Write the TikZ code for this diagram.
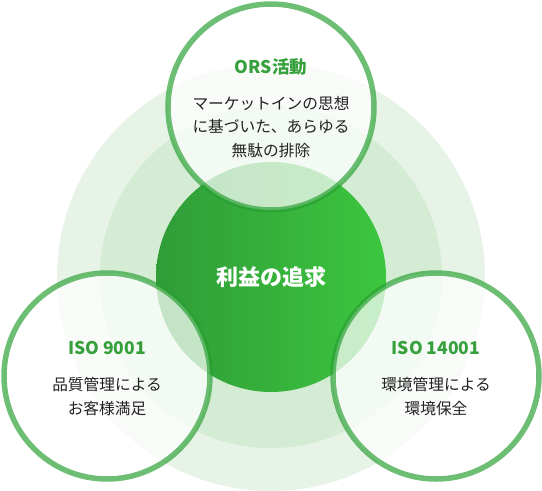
\documentclass[tikz,border=0pt]{standalone}
\usepackage{fontspec}
\newfontfamily\jp{Noto Sans CJK JP}
\usetikzlibrary{shadings}
\definecolor{ringA}{RGB}{230,243,230}
\definecolor{ringB}{RGB}{212,235,212}
\definecolor{gL}{RGB}{48,156,56}
\definecolor{gR}{RGB}{60,198,62}
\definecolor{edge}{RGB}{40,160,50}
\definecolor{head}{RGB}{54,160,60}
\definecolor{body}{RGB}{34,34,34}
\tikzset{
  sat/.style={circle, minimum size=206pt, inner sep=0pt, fill=white, fill opacity=0.72, draw=edge, draw opacity=0.68, line width=5.5pt},
  headtxt/.style={font=\jp\bfseries\fontsize{17.5}{20}\selectfont, text=head, inner sep=0pt},
  bodytxt/.style={font=\jp\fontsize{15.7}{23.5}\selectfont, text=body, align=center, inner sep=0pt},
}
\begin{document}
\begin{tikzpicture}[x=1pt,y=-1pt]
\useasboundingbox (0,0) rectangle (542,491);
\node[circle, minimum size=428pt, inner sep=0pt, fill=ringA] (outer) at (271,277) {};
\node[circle, minimum size=342pt, inner sep=0pt, fill=ringB] (middle) at (271,277) {};
\node[circle, minimum size=230pt, inner sep=0pt, left color=gL, right color=gR] (core) at (271,277) {};
\node[sat] (top) at (271,107) {};
\node[sat] (left) at (107,376) {};
\node[sat] (right) at (436,376) {};
\node[font=\jp\bfseries\fontsize{22}{24}\selectfont, text=white, inner sep=0pt] (coretxt) at (core.center) {利益の追求};
\node[headtxt] (toph) at (271,67) {ORS活動};
\node[bodytxt] (topb) at (271,127) {マーケットインの思想\\に基づいた、あらゆる\\無駄の排除};
\node[headtxt] (lefth) at (107,348) {ISO 9001};
\node[bodytxt] (leftb) at (107,396.5) {品質管理による\\お客様満足};
\node[headtxt] (righth) at (436,348) {ISO 14001};
\node[bodytxt] (rightb) at (436,396.5) {環境管理による\\環境保全};
\end{tikzpicture}
\end{document}
